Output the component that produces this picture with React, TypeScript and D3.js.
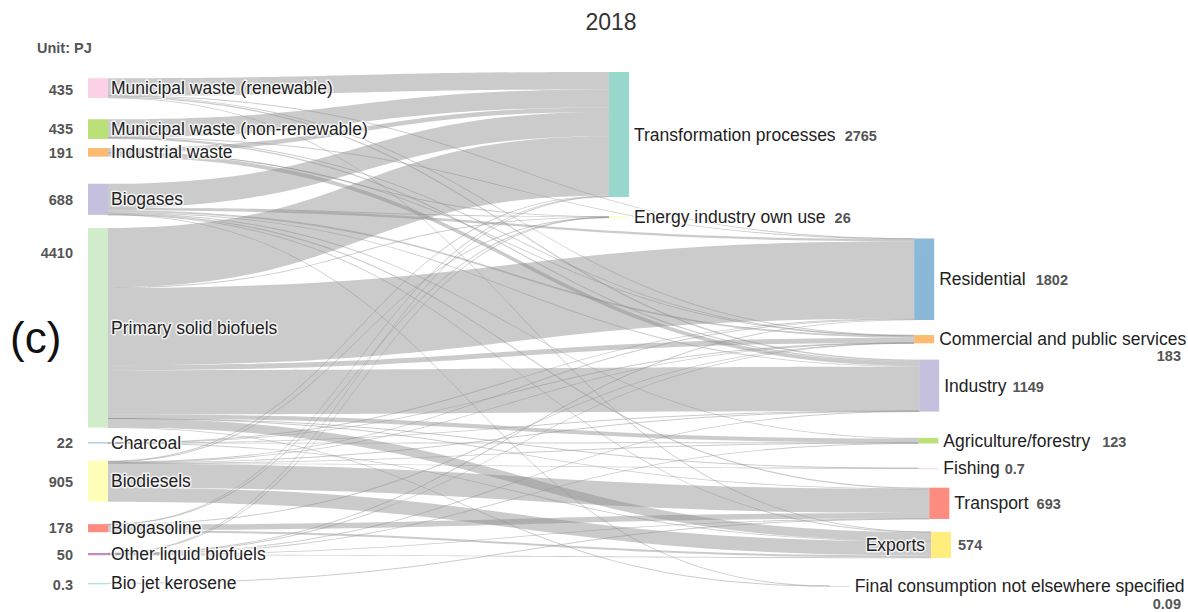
import { useEffect } from 'react';
import * as d3 from 'd3';

const title = '2018';
const unitLabel = 'Unit: PJ';
const panelLabel = '(c)';

const sourceNames = [
  'Municipal waste (renewable)',
  'Municipal waste (non-renewable)',
  'Industrial waste',
  'Biogases',
  'Primary solid biofuels',
  'Charcoal',
  'Biodiesels',
  'Biogasoline',
  'Other liquid biofuels',
  'Bio jet kerosene',
];
const sourceTotals = ['435', '435', '191', '688', '4410', '22', '905', '178', '50', '0.3'];

const targetNames = [
  'Transformation processes',
  'Energy industry own use',
  'Residential',
  'Commercial and public services',
  'Industry',
  'Agriculture/forestry',
  'Fishing',
  'Transport',
  'Exports',
  'Final consumption not elsewhere specified',
];
const targetTotals = ['2765', '26', '1802', '183', '1149', '123', '0.7', '693', '574', '0.09'];

// flows (PJ) from each source, in targetNames order
const fromMunicipalRenewable = [385, 0, 5, 12, 30, 0, 0, 0, 3, 0];
const fromMunicipalNonRenewable = [400, 0, 4, 6, 25, 0, 0, 0, 0, 0];
const fromIndustrialWaste = [100, 3, 0, 3, 85, 0, 0, 0, 0, 0];
const fromBiogases = [533, 1.5, 52, 38.5, 20, 15, 0, 25, 3, 0.04];
const fromPrimarySolid = [1310, 15, 1708, 110.5, 975, 90, 0.2, 2.7, 200, 0.05];
const fromCharcoal = [0, 0, 12, 2, 4, 1, 0, 0, 3, 0];
const fromBiodiesels = [20, 1.5, 16, 7, 5, 15, 0.5, 530, 310, 0];
const fromBiogasoline = [5, 2, 0, 1, 0, 0, 0, 125, 45, 0];
const fromOtherLiquid = [12, 3, 5, 3, 5, 2, 0, 10, 10, 0];
const fromBioJet = [0, 0, 0, 0, 0, 0, 0, 0.3, 0, 0];

const flowRows = [
  fromMunicipalRenewable,
  fromMunicipalNonRenewable,
  fromIndustrialWaste,
  fromBiogases,
  fromPrimarySolid,
  fromCharcoal,
  fromBiodiesels,
  fromBiogasoline,
  fromOtherLiquid,
  fromBioJet,
];

const sourceColors = ['#fccde5', '#b3de69', '#fdb462', '#bebada', '#ccebc5', '#80b1d3', '#ffffb3', '#fb8072', '#bc80bd', '#8dd3c7'];
const targetColors = ['#8dd3c7', '#ffffb3', '#80b1d3', '#fdb462', '#bebada', '#b3de69', '#fccde5', '#fb8072', '#ffed6f', '#d9d9d9'];

// node arrangement, fractions of the plot area (like plotly node.x / node.y)
const sourceY = [0.052, 0.128, 0.171, 0.258, 0.496, 0.709, 0.780, 0.867, 0.915, 0.969];
const targetX = [0.618, 0.618, 0.980, 0.980, 0.986, 0.985, 0.985, 0.998, 1.0, 0.880];
const targetY = [0.138, 0.291, 0.406, 0.517, 0.603, 0.705, 0.756, 0.821, 0.898, 0.974];
// value label placement
const sourceValueShift = [2, 0, 1, 1, -75, 0, 1, 0, 1, 2];
const targetValueMode = ['inline', 'inline', 'inline', 'below', 'inline', 'inline', 'inline', 'inline', 'inside', 'below'];
const targetValueGap = [9, 9, 10, 17, 6, 12, 5, 8, 7, 18];

const font = '"Liberation Sans", Arial, Helvetica, sans-serif';

export default function App() {
  useEffect(() => {
    document.body.style.margin = '0';
  }, []);

  const W = 1188;
  const H = 612;
  const nodeW = 20;

  const x = d3.scaleLinear().domain([0, 1]).range([88, 931]);
  const y = d3.scaleLinear().domain([0, 1]).range([60, 600]);
  const k = d3.scaleLinear().domain([0, 4410]).range([0, 199.5]);

  const srcSum = flowRows.map(r => d3.sum(r));
  const tgtSum = targetNames.map((_, j) => d3.sum(flowRows, r => r[j]));

  const srcNodes = sourceNames.map((name, i) => {
    const h = k(srcSum[i]);
    const cy = y(sourceY[i]);
    return { name, x0: x(0), x1: x(0) + nodeW, y0: cy - h / 2, h, cy };
  });
  const tgtNodes = targetNames.map((name, j) => {
    const h = k(tgtSum[j]);
    const cy = y(targetY[j]);
    const x0 = x(targetX[j]);
    return { name, x0, x1: x0 + nodeW, y0: cy - h / 2, h, cy };
  });

  const links: { s: number; t: number; v: number; w: number; sy: number; ty: number }[] = [];
  flowRows.forEach((row, i) =>
    row.forEach((v, j) => {
      if (v > 0) links.push({ s: i, t: j, v, w: k(v), sy: 0, ty: 0 });
    })
  );

  srcNodes.forEach((n, i) => {
    let off = n.y0;
    links
      .filter(l => l.s === i)
      .sort((a, b) => tgtNodes[a.t].cy - tgtNodes[b.t].cy)
      .forEach(l => {
        l.sy = off + l.w / 2;
        off += l.w;
      });
  });
  tgtNodes.forEach((n, j) => {
    let off = n.y0;
    links
      .filter(l => l.t === j)
      .sort((a, b) => srcNodes[a.s].cy - srcNodes[b.s].cy)
      .forEach(l => {
        l.ty = off + l.w / 2;
        off += l.w;
      });
  });

  const linkPath = (l: (typeof links)[number]) => {
    const x0 = srcNodes[l.s].x1;
    const x1 = tgtNodes[l.t].x0;
    const xm = (x0 + x1) / 2;
    const hw = Math.max(l.w, 0.9) / 2;
    const p = d3.path();
    p.moveTo(x0, l.sy - hw);
    p.bezierCurveTo(xm, l.sy - hw, xm, l.ty - hw, x1, l.ty - hw);
    p.lineTo(x1, l.ty + hw);
    p.bezierCurveTo(xm, l.ty + hw, xm, l.sy + hw, x0, l.sy + hw);
    p.closePath();
    return p.toString();
  };

  const halo = {
    paintOrder: 'stroke' as const,
    stroke: '#fff',
    strokeWidth: 3,
    strokeOpacity: 0.75,
    strokeLinejoin: 'round' as const,
  };

  return (
    <svg width={W} height={H} style={{ display: 'block', fontFamily: font }}>
      <rect width={W} height={H} fill="#fff" />
      <text x={611} y={30} textAnchor="middle" fontSize={23} fill="#333">{title}</text>
      <text x={37} y={53} fontSize={14.5} fontWeight="bold" fill="#555">{unitLabel}</text>
      <text x={10} y={353} fontSize={44} fill="#111">{panelLabel}</text>

      <g>
        {links.map((l, i) => (
          <path key={i} d={linkPath(l)} fill="rgb(140,140,140)" fillOpacity={0.45} />
        ))}
      </g>

      <g opacity={0.9}>
        {srcNodes.map((n, i) => (
          <rect key={i} x={n.x0} y={n.y0} width={nodeW} height={Math.max(n.h, 1)} fill={sourceColors[i]} />
        ))}
        {tgtNodes.map((n, j) => (
          <rect key={j} x={n.x0} y={n.y0} width={nodeW} height={Math.max(n.h, 1)} fill={targetColors[j]} />
        ))}
      </g>

      <g fontSize={17.5} fill="#222">
        {srcNodes.map((n, i) => (
          <g key={i}>
            <text x={n.x1 + 3} y={n.cy} dy="0.35em" style={halo}>{n.name}</text>
            <text
              x={n.x0 - 15}
              y={n.cy + sourceValueShift[i]}
              dy="0.35em"
              textAnchor="end"
              fontSize={14.5}
              fontWeight="bold"
              fill="#555"
            >
              {sourceTotals[i]}
            </text>
          </g>
        ))}
        {tgtNodes.map((n, j) => {
          const mode = targetValueMode[j];
          if (mode === 'inside') {
            return (
              <g key={j}>
                <text x={n.x0 - 6} y={n.cy} dy="0.35em" textAnchor="end" style={halo}>{n.name}</text>
                <text x={n.x1 + 7} y={n.cy} dy="0.35em" fontSize={14.5} fontWeight="bold" fill="#555">{targetTotals[j]}</text>
              </g>
            );
          }
          if (mode === 'below') {
            return (
              <g key={j}>
                <text x={n.x1 + 5} y={n.cy} dy="0.35em" style={halo}>{n.name}</text>
                <text
                  x={1181}
                  y={n.cy + targetValueGap[j]}
                  dy="0.35em"
                  textAnchor="end"
                  fontSize={14.5}
                  fontWeight="bold"
                  fill="#555"
                >
                  {targetTotals[j]}
                </text>
              </g>
            );
          }
          return (
            <text key={j} x={n.x1 + 5} y={n.cy} dy="0.35em" style={halo}>
              {n.name}
              <tspan dx={targetValueGap[j]} fontSize={14.5} fontWeight="bold" fill="#555">{targetTotals[j]}</tspan>
            </text>
          );
        })}
      </g>
    </svg>
  );
}
